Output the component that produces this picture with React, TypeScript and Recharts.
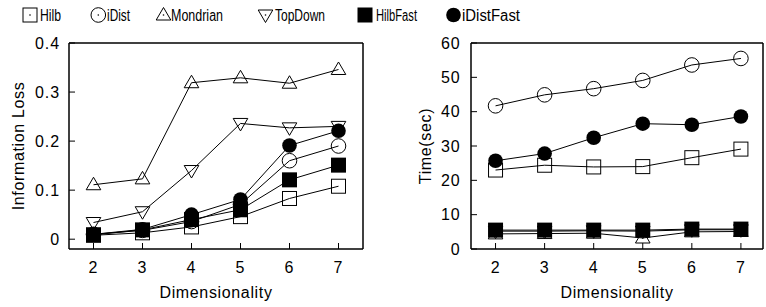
import React from 'react';
import { LineChart, Line, XAxis, YAxis, Label } from 'recharts';

// ---------- data ----------
const dims = [2, 3, 4, 5, 6, 7];
const seriesNames = ['Hilb', 'iDist', 'Mondrian', 'TopDown', 'HilbFast', 'iDistFast'];

const lossHilb = [0.008, 0.013, 0.025, 0.046, 0.083, 0.108];
const lossIDist = [0.01, 0.018, 0.036, 0.071, 0.16, 0.19];
const lossMondrian = [0.111, 0.123, 0.319, 0.329, 0.318, 0.346];
const lossTopDown = [0.034, 0.056, 0.14, 0.236, 0.227, 0.23];
const lossHilbFast = [0.009, 0.019, 0.04, 0.06, 0.121, 0.151];
const lossIDistFast = [0.01, 0.02, 0.05, 0.081, 0.191, 0.221];

const timeHilb = [23.0, 24.4, 23.9, 24.0, 26.6, 29.1];
const timeIDist = [41.7, 44.9, 46.7, 49.1, 53.6, 55.5];
const timeMondrian = [4.4, 4.5, 4.6, 3.2, 5.0, 5.1];
const timeTopDown = [5.2, 5.2, 5.3, 5.2, 5.6, 5.6];
const timeHilbFast = [5.5, 5.5, 5.5, 5.5, 5.8, 5.8];
const timeIDistFast = [25.7, 27.8, 32.4, 36.5, 36.2, 38.6];

const xTicks = [2, 3, 4, 5, 6, 7];
const lossTicks = [0, 0.1, 0.2, 0.3, 0.4];
const timeTicks = [0, 10, 20, 30, 40, 50, 60];

type Kind = 'square' | 'circle' | 'triangle' | 'invTriangle' | 'filledSquare' | 'filledCircle';
const kinds: Kind[] = ['square', 'circle', 'triangle', 'invTriangle', 'filledSquare', 'filledCircle'];

const lossSeries = [lossHilb, lossIDist, lossMondrian, lossTopDown, lossHilbFast, lossIDistFast];
const timeSeries = [timeHilb, timeIDist, timeMondrian, timeTopDown, timeHilbFast, timeIDistFast];

const buildRows = (series: number[][]) =>
  dims.map((d, i) => {
    const row: Record<string, number> = { dim: d };
    seriesNames.forEach((n, k) => {
      row[n] = series[k][i];
    });
    return row;
  });

const lossRows = buildRows(lossSeries);
const timeRows = buildRows(timeSeries);

// ---------- styles ----------
const FONT = '"Liberation Sans", Arial, Helvetica, sans-serif';
const tickStyle = { fontSize: 16, fill: '#000', fontFamily: FONT, letterSpacing: 0.9 };
const labelStyle = { fontSize: 16, fill: '#000', fontFamily: FONT, letterSpacing: 0.65 };
const frame = { stroke: '#000', strokeWidth: 1.5 };
const tickLineStyle = { stroke: '#000', strokeWidth: 1 };

// legend layout: marker centre x, text x, text width
const legendMarkerX = [30, 98.3, 163.5, 265.5, 365, 453.5];
const legendTextX = [40, 107, 171, 275, 376, 462];
const legendTextW = [21, 23, 52, 50, 41, 58];

function Marker({ kind, cx, cy, legend }: { kind: Kind; cx: number; cy: number; legend?: boolean }) {
  const s = 'black';
  const dot = legend ? <circle cx={cx} cy={cy} r={0.8} fill="#000" /> : null;
  switch (kind) {
    case 'square':
      return (
        <g>
          <rect x={cx - 7} y={cy - 7} width={14} height={14} fill="none" stroke={s} strokeWidth={1} />
          {dot}
        </g>
      );
    case 'circle':
      return (
        <g>
          <circle cx={cx} cy={cy} r={7.3} fill="none" stroke={s} strokeWidth={1} />
          {dot}
        </g>
      );
    case 'triangle':
      return (
        <g>
          <polygon
            points={`${cx},${cy - 7.5} ${cx - 7.3},${cy + 5} ${cx + 7.3},${cy + 5}`}
            fill="none"
            stroke={s}
            strokeWidth={1}
          />
          {dot}
        </g>
      );
    case 'invTriangle':
      return (
        <g>
          <polygon
            points={`${cx},${cy + 7.5} ${cx - 7.3},${cy - 5} ${cx + 7.3},${cy - 5}`}
            fill="none"
            stroke={s}
            strokeWidth={1}
          />
          {dot}
        </g>
      );
    case 'filledSquare':
      return <rect x={cx - 7.5} y={cy - 7.5} width={15} height={15} fill="#000" />;
    default:
      return <circle cx={cx} cy={cy} r={7.3} fill="#000" />;
  }
}

function makeDot(kind: Kind) {
  return (props: any) => {
    const { cx, cy, index } = props;
    if (cx == null || cy == null) return <g key={`e-${index}`} />;
    return (
      <g key={`d-${kind}-${index}`}>
        <Marker kind={kind} cx={cx} cy={cy} />
      </g>
    );
  };
}

function Panel({
  rows,
  yDomain,
  yTicks,
  yLabel,
  xDomain,
  yAxisWidth,
  yLabelOffset,
  yTickMargin,
  marginRight,
}: {
  rows: Record<string, number>[];
  yDomain: [number, number];
  yTicks: number[];
  yLabel: string;
  xDomain: [number, number];
  yAxisWidth: number;
  yLabelOffset: number;
  yTickMargin: number;
  marginRight: number;
}) {
  return (
    <LineChart
      width={383}
      height={307}
      data={rows}
      margin={{ top: 42, right: marginRight, left: 0, bottom: 0 }}
    >
      <XAxis
        dataKey="dim"
        type="number"
        domain={xDomain}
        ticks={xTicks}
        allowDataOverflow
        interval={0}
        height={58}
        tickSize={-6}
        tickMargin={19}
        axisLine={frame}
        tickLine={tickLineStyle}
        tick={tickStyle}
      >
        <Label value="Dimensionality" position="insideBottom" offset={9} style={labelStyle} />
      </XAxis>
      <XAxis
        xAxisId="top"
        orientation="top"
        type="number"
        domain={xDomain}
        ticks={xTicks}
        allowDataOverflow
        interval={0}
        height={1}
        tickSize={-6}
        axisLine={frame}
        tickLine={tickLineStyle}
        tick={false}
      />
      <YAxis
        type="number"
        domain={yDomain}
        ticks={yTicks}
        allowDataOverflow
        interval={0}
        width={yAxisWidth}
        tickSize={-6}
        tickMargin={yTickMargin}
        axisLine={frame}
        tickLine={tickLineStyle}
        tick={tickStyle}
      >
        <Label
          value={yLabel}
          angle={-90}
          position="insideLeft"
          offset={yLabelOffset}
          textAnchor="middle"
          style={labelStyle}
        />
      </YAxis>
      <YAxis
        yAxisId="right"
        orientation="right"
        type="number"
        domain={yDomain}
        ticks={yTicks}
        allowDataOverflow
        interval={0}
        width={1}
        tickSize={-6}
        axisLine={frame}
        tickLine={tickLineStyle}
        tick={false}
      />
      {seriesNames.map((n, k) => (
        <Line
          key={n}
          dataKey={n}
          type="linear"
          stroke="#000"
          strokeWidth={1}
          dot={makeDot(kinds[k])}
          activeDot={false}
          isAnimationActive={false}
        />
      ))}
    </LineChart>
  );
}

function TopLegend() {
  return (
    <svg width={766} height={30} style={{ position: 'absolute', left: 0, top: 0 }}>
      {seriesNames.map((n, k) => (
        <g key={n}>
          <Marker kind={kinds[k]} cx={legendMarkerX[k]} cy={15} legend />
          <text
            x={legendTextX[k]}
            y={21}
            fontSize={16}
            fontFamily={FONT}
            fill="#000"
            textLength={legendTextW[k]}
            lengthAdjust="spacingAndGlyphs"
          >
            {n}
          </text>
        </g>
      ))}
    </svg>
  );
}

export default function App() {
  return (
    <div
      style={{
        position: 'absolute',
        left: 0,
        top: 0,
        width: 766,
        height: 307,
        background: '#fff',
        overflow: 'hidden',
      }}
    >
      <div style={{ position: 'absolute', left: 0, top: 0 }}>
        <Panel
          rows={lossRows}
          yDomain={[-0.02, 0.4]}
          yTicks={lossTicks}
          yLabel="Information Loss"
          xDomain={[1.5, 7.5]}
          yAxisWidth={69}
          yLabelOffset={18}
          yTickMargin={15}
          marginRight={19}
        />
      </div>
      <div style={{ position: 'absolute', left: 383, top: 0 }}>
        <Panel
          rows={timeRows}
          yDomain={[0, 60]}
          yTicks={timeTicks}
          yLabel="Time(sec)"
          xDomain={[1.5, 7.45]}
          yAxisWidth={88}
          yLabelOffset={42}
          yTickMargin={16.5}
          marginRight={2}
        />
      </div>
      <TopLegend />
    </div>
  );
}
